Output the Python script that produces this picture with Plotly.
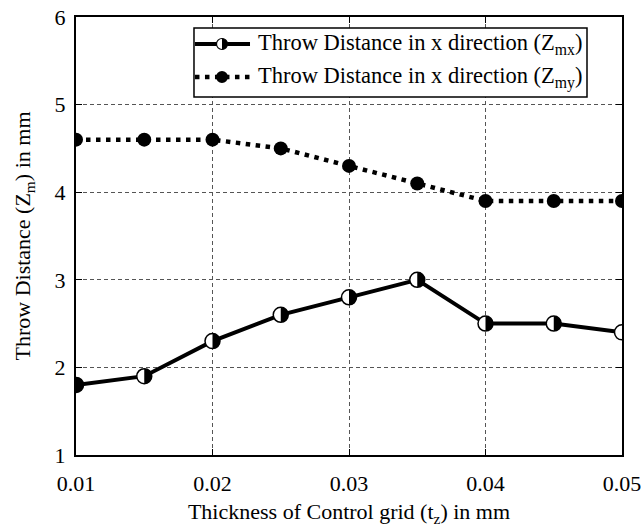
import plotly.graph_objects as go

# Grid thickness (mm) and throw distances (mm)
thickness = [0.01, 0.015, 0.02, 0.025, 0.03, 0.035, 0.04, 0.045, 0.05]
z_mx = [1.8, 1.9, 2.3, 2.6, 2.8, 3.0, 2.5, 2.5, 2.4]
z_my = [4.6, 4.6, 4.6, 4.5, 4.3, 4.1, 3.9, 3.9, 3.9]

x_ticks = [0.01, 0.02, 0.03, 0.04, 0.05]
y_ticks = [1, 2, 3, 4, 5, 6]

legend_labels = [
    "Throw Distance in x direction (Z<sub>mx</sub>)",
    "Throw Distance in x direction (Z<sub>my</sub>)",
]

FONT = "Liberation Serif, Times New Roman, serif"
FS = 22
LEG_FS = 22.5
K = 0.5523  # cubic bezier circle constant


def right_half(r):
    return (f"M0,{-r} C{K*r},{-r} {r},{-K*r} {r},0 "
            f"C{r},{K*r} {K*r},{r} 0,{r} Z")


fig = go.Figure()

fig.add_trace(go.Scatter(
    x=thickness, y=z_mx, mode="lines+markers", showlegend=False,
    line=dict(color="black", width=4),
    marker=dict(symbol="circle", size=15, color="white",
                line=dict(color="black", width=1.5)),
))
fig.add_trace(go.Scatter(
    x=thickness, y=z_my, mode="lines+markers", showlegend=False,
    line=dict(color="black", width=4.5, dash="4.5px,5.5px"),
    marker=dict(symbol="circle", size=14, color="black"),
))

shapes = []
# right half of each Z_mx marker is filled black
for xv, yv in zip(thickness, z_mx):
    shapes.append(dict(
        type="path", xref="x", yref="y", xsizemode="pixel", ysizemode="pixel",
        xanchor=xv, yanchor=yv, path=right_half(7.5),
        fillcolor="black", line=dict(width=0), layer="above"))

# legend box
L_X0, L_X1 = 0.2161, 0.9359
L_Y0, L_Y1 = 0.8174, 0.9749
ROWS = [0.9384, 0.8630]
S_X0, S_X1, S_XM = 0.2179, 0.3187, 0.2674
T_X = 0.3297

shapes.append(dict(type="rect", xref="paper", yref="paper",
                   x0=L_X0, x1=L_X1, y0=L_Y0, y1=L_Y1,
                   fillcolor="white", line=dict(color="black", width=1.5),
                   layer="above"))
# row 1: solid line with half-filled circle
shapes.append(dict(type="line", xref="paper", yref="paper",
                   x0=S_X0, x1=S_X1, y0=ROWS[0], y1=ROWS[0],
                   line=dict(color="black", width=4), layer="above"))
shapes.append(dict(type="circle", xref="paper", yref="paper",
                   xsizemode="pixel", ysizemode="pixel",
                   xanchor=S_XM, yanchor=ROWS[0], x0=-5.5, x1=5.5, y0=-5.5, y1=5.5,
                   fillcolor="white", line=dict(color="black", width=1.2),
                   layer="above"))
shapes.append(dict(type="path", xref="paper", yref="paper",
                   xsizemode="pixel", ysizemode="pixel",
                   xanchor=S_XM, yanchor=ROWS[0], path=right_half(5.5),
                   fillcolor="black", line=dict(width=0), layer="above"))
# row 2: dotted line with filled circle
shapes.append(dict(type="line", xref="paper", yref="paper",
                   x0=S_X0, x1=S_X1, y0=ROWS[1], y1=ROWS[1],
                   line=dict(color="black", width=4.5, dash="4.5px,5.5px"),
                   layer="above"))
shapes.append(dict(type="circle", xref="paper", yref="paper",
                   xsizemode="pixel", ysizemode="pixel",
                   xanchor=S_XM, yanchor=ROWS[1], x0=-6, x1=6, y0=-6, y1=6,
                   fillcolor="black", line=dict(width=0), layer="above"))

annotations = [
    dict(text=lbl, xref="paper", yref="paper", x=T_X, y=ry,
         xanchor="left", yanchor="middle", showarrow=False,
         font=dict(family=FONT, size=LEG_FS, color="black"))
    for lbl, ry in zip(legend_labels, ROWS)
]

axis_common = dict(
    showline=True, linecolor="black", linewidth=2, mirror="ticks",
    ticks="inside", ticklen=6, tickwidth=1, tickcolor="black",
    showgrid=True, gridcolor="#555555", gridwidth=1, griddash="4px,3px",
    zeroline=False, automargin=False, ticklabeloverflow="allow",
    tickfont=dict(family=FONT, size=FS, color="black"),
)

fig.update_layout(
    width=641, height=527,
    margin=dict(l=76, r=19, t=17, b=72),
    paper_bgcolor="white", plot_bgcolor="white",
    shapes=shapes, annotations=annotations,
    xaxis=dict(range=[0.01, 0.05], tickvals=x_ticks,
               ticktext=[f"{v:.2f}" for v in x_ticks],
               ticklabelstandoff=8,
               title=dict(text="Thickness of Control grid (t<sub>z</sub>) in mm",
                          font=dict(family=FONT, size=FS, color="black"),
                          standoff=12),
               **axis_common),
    yaxis=dict(range=[1, 6], tickvals=y_ticks,
               ticklabelstandoff=4,
               title=dict(text="Throw Distance (Z<sub>m</sub>) in mm",
                          font=dict(family=FONT, size=FS, color="black"),
                          standoff=18),
               **axis_common),
)

fig.write_html("out.html")
